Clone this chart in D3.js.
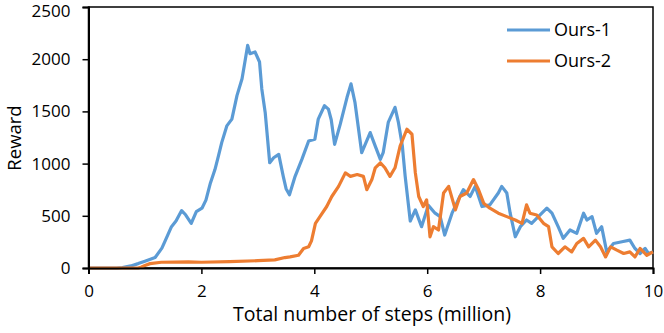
<!DOCTYPE html>
<html><head><meta charset="utf-8">
<script src="https://cdn.jsdelivr.net/npm/d3@7"></script>
<style>body{margin:0;background:#fff}svg{display:block}text{font-family:"Open Sans",Lato,sans-serif}</style>
</head><body><svg id="c" width="664" height="333"></svg>
<script>
const xTicks=[0,2,4,6,8,10];
const yTicks=[0,500,1000,1500,2000,2500];
const seriesNames=["Ours-1","Ours-2"];
const ours1X=[0,0.5,0.6,0.75,0.88,1.0,1.18,1.3,1.35,1.47,1.55,1.65,1.72,1.82,1.91,2.01,2.08,2.16,2.24,2.3,2.36,2.45,2.54,2.63,2.72,2.78,2.82,2.86,2.95,3.03,3.07,3.13,3.21,3.28,3.37,3.45,3.5,3.56,3.66,3.78,3.9,4.01,4.07,4.18,4.25,4.3,4.36,4.46,4.58,4.65,4.72,4.84,4.99,5.08,5.17,5.22,5.31,5.43,5.49,5.56,5.61,5.7,5.79,5.9,6.02,6.14,6.23,6.31,6.44,6.55,6.64,6.76,6.85,6.97,7.11,7.26,7.32,7.41,7.47,7.56,7.65,7.76,7.85,8.0,8.12,8.21,8.32,8.41,8.53,8.65,8.77,8.83,8.92,9.0,9.09,9.18,9.3,9.45,9.59,9.68,9.77,9.86,9.92,10];
const ours1Y=[0,0,5,20,42,65,100,190,251,396,450,550,510,428,540,573,650,815,943,1070,1201,1361,1426,1651,1812,2005,2133,2053,2069,1973,1715,1490,1008,1056,1088,878,760,701,878,1040,1216,1233,1426,1554,1522,1420,1184,1378,1635,1764,1587,1104,1297,1168,1040,1104,1394,1539,1394,1168,878,450,557,396,600,525,492,316,525,653,750,685,782,589,605,718,782,718,525,299,396,460,428,508,573,525,396,284,364,332,525,460,492,332,396,154,235,251,267,187,139,187,139,154];
const ours2X=[0,0.88,0.94,1.0,1.09,1.29,1.77,2.0,2.5,3.0,3.3,3.48,3.57,3.72,3.81,3.9,3.95,4.02,4.1,4.22,4.31,4.43,4.55,4.64,4.76,4.87,4.93,5.02,5.08,5.17,5.25,5.34,5.43,5.52,5.64,5.73,5.79,5.85,5.93,5.99,6.05,6.11,6.2,6.29,6.38,6.5,6.58,6.7,6.82,6.91,7.0,7.11,7.26,7.41,7.56,7.68,7.76,7.82,7.94,8.06,8.15,8.21,8.32,8.44,8.56,8.65,8.77,8.86,8.98,9.07,9.16,9.25,9.36,9.48,9.59,9.68,9.77,9.89,10];
const ours2Y=[0,0,10,25,42,55,58,55,62,70,78,100,106,122,187,203,260,428,492,589,685,782,911,878,895,878,750,847,960,1008,960,878,960,1168,1329,1281,911,685,589,653,299,396,364,718,782,557,685,718,847,750,621,573,525,492,460,428,605,525,508,428,396,203,139,203,154,235,284,203,267,203,106,203,171,139,154,106,187,122,154];
const colors=["#5B9BD5","#ED7D31"];

const svg=d3.select("#c");
const L=88.5,R=653,T=7,B=268;
const x=d3.scaleLinear().domain([0,10]).range([L,R]);
const y=d3.scaleLinear().domain([0,2500]).range([B,T]);

svg.append("rect").attr("x",L).attr("y",T).attr("width",R-L).attr("height",B-T)
  .attr("fill","none").attr("stroke","#000").attr("stroke-width",1.5);

const line=d3.line().x(d=>x(d[0])).y(d=>y(d[1]));
const data=[d3.zip(ours1X,ours1Y),d3.zip(ours2X,ours2Y)];
const g=svg.append("g");
[0,1].forEach(i=>{
  g.append("path").datum(data[i]).attr("d",line).attr("fill","none")
   .attr("stroke",colors[i]).attr("stroke-width",3.2).attr("stroke-linejoin","round");
});

const xa=svg.append("g").attr("transform",`translate(0,${B})`)
  .call(d3.axisBottom(x).tickValues(xTicks).tickSize(6).tickPadding(11).tickFormat(d3.format("d")));
const ya=svg.append("g").attr("transform",`translate(${L},0)`)
  .call(d3.axisLeft(y).tickValues(yTicks).tickSize(6).tickPadding(12).tickFormat(d3.format("d")));
[xa,ya].forEach(a=>{
  a.select(".domain").attr("stroke","#000").attr("stroke-width",2);
  a.selectAll(".tick line").attr("stroke","#000").attr("stroke-width",1.5);
  a.selectAll(".tick text").attr("fill","#000").style("font-size","17px").style("font-family","'Open Sans', sans-serif");
});
ya.selectAll(".tick text").filter(d=>d===2500).attr("dy","0.55em");

svg.append("text").attr("x",372).attr("y",321).attr("text-anchor","middle")
  .style("font-size","19.5px").attr("fill","#000").text("Total number of steps (million)");
svg.append("text").attr("transform",`translate(20.5,138) rotate(-90)`).attr("text-anchor","middle")
  .style("font-size","18.5px").attr("fill","#000").text("Reward");

const leg=svg.append("g");
seriesNames.forEach((n,i)=>{
  const yy=30+i*31;
  leg.append("line").attr("x1",507).attr("x2",550).attr("y1",yy).attr("y2",yy)
    .attr("stroke",colors[i]).attr("stroke-width",3.2);
  leg.append("text").attr("x",554).attr("y",yy).attr("dy","0.35em")
    .style("font-size","18px").attr("fill","#000").text(n);
});
</script></body></html>
